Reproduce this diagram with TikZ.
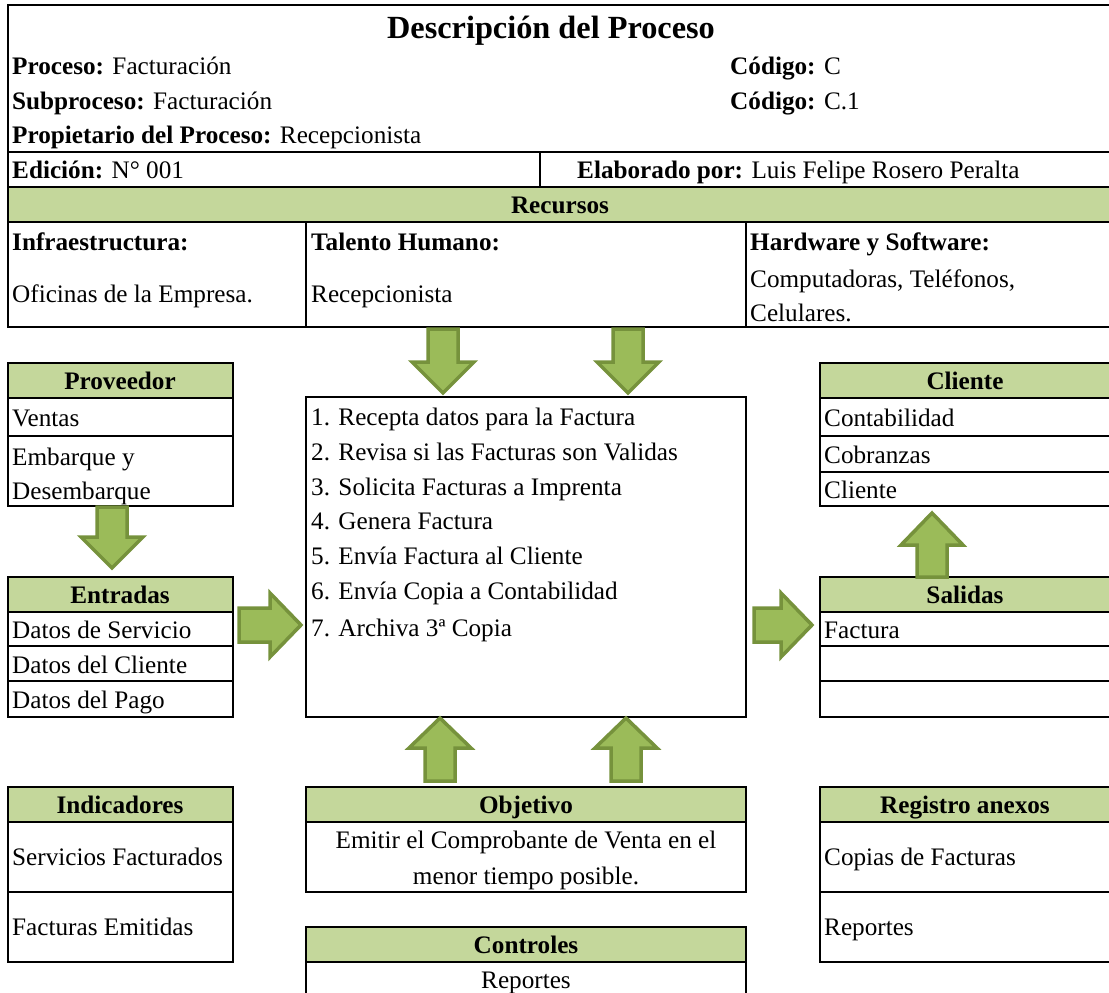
\documentclass[tikz,border=0pt]{standalone}
\usepackage{fontspec}
\setmainfont{Liberation Serif}
\definecolor{hdr}{HTML}{C4D79B}
\definecolor{afill}{HTML}{9BBB59}
\definecolor{adraw}{HTML}{76923C}
\newcommand\ArrDown[4]{\draw[barrow] (#1-15,#2) -- (#1+15,#2) -- (#1+15,#3) -- (#1+31,#3) -- (#1,#4) -- (#1-31,#3) -- (#1-15,#3) -- cycle;}
\newcommand\ArrUp[4]{\draw[barrow] (#1-15,#2) -- (#1+15,#2) -- (#1+15,#3) -- (#1+31,#3) -- (#1,#4) -- (#1-31,#3) -- (#1-15,#3) -- cycle;}
\newcommand\ArrRight[4]{\draw[barrow] (#1,#4-17) -- (#2,#4-17) -- (#2,#4-32) -- (#3,#4) -- (#2,#4+32) -- (#2,#4+17) -- (#1,#4+17) -- cycle;}
\begin{document}
\begin{tikzpicture}[x=1pt,y=-1pt,
  hdrcell/.style={draw=black,line width=2pt,fill=hdr},
  cell/.style={draw=black,line width=2pt},
  tl/.style={anchor=base west,inner sep=0pt,yshift=-8.5pt},
  tc/.style={anchor=base,inner sep=0pt,yshift=-8.5pt},
  barrow/.style={fill=afill,draw=adraw,line width=3.5pt,line join=miter},
  every node/.style={font=\fontsize{25.2}{28}\selectfont}]
\clip (0,0) rectangle (1109,993);
% ---------- top table ----------
\fill[hdr] (8,187) rectangle (1115,222);
\draw[line width=2pt] (1115,5) -- (8,5) -- (8,327) -- (1115,327);
\draw[line width=2pt] (8,152) -- (1115,152) (8,187) -- (1115,187) (8,222) -- (1115,222);
\draw[line width=2pt] (540,152) -- (540,187) (306,222) -- (306,327) (746,222) -- (746,327);
\node[tc,font=\fontsize{32.3}{35}\selectfont\bfseries,yshift=-2pt] (title) at (551,28) {Descripción del Proceso};
\node[tl] (proc) at (12,66) {\textbf{Proceso:} Facturación};
\node[tl] (subp) at (12,101) {\textbf{Subproceso:} Facturación};
\node[tl] (prop) at (12,135) {\textbf{Propietario del Proceso:} Recepcionista};
\node[tl] (cod1) at (730,66) {\textbf{Código:} C};
\node[tl] (cod2) at (730,101) {\textbf{Código:} C.1};
\node[tl] (edic) at (12,170) {\textbf{Edición:} N° 001};
\node[tl] (elab) at (577,170) {\textbf{Elaborado por:} Luis Felipe Rosero Peralta};
\node[tc] (recu) at (560,205) {\textbf{Recursos}};
\node[tl] (infh) at (12,242) {\textbf{Infraestructura:}};
\node[tl] (infc) at (12,294) {Oficinas de la Empresa.};
\node[tl] (talh) at (311,242) {\textbf{Talento Humano:}};
\node[tl] (talc) at (311,294) {Recepcionista};
\node[tl] (hwh) at (750,242) {\textbf{Hardware y Software:}};
\node[tl] (hwc1) at (750,279) {Computadoras, Teléfonos,};
\node[tl] (hwc2) at (750,313) {Celulares.};
% ---------- Proveedor ----------
\draw[hdrcell] (8,363) rectangle (233,398);
\draw[cell] (8,398) rectangle (233,436);
\draw[cell] (8,436) rectangle (233,506);
\node[tc] (provh) at (120,381) {\textbf{Proveedor}};
\node[tl] (prov1) at (12,418) {Ventas};
\node[tl] (prov2) at (12,457) {Embarque y};
\node[tl] (prov3) at (12,491) {Desembarque};
% ---------- Entradas ----------
\draw[hdrcell] (8,577) rectangle (233,612);
\draw[cell] (8,612) rectangle (233,646);
\draw[cell] (8,646) rectangle (233,681);
\draw[cell] (8,681) rectangle (233,717);
\node[tc] (entrh) at (120,595) {\textbf{Entradas}};
\node[tl] (entr1) at (12,630) {Datos de Servicio};
\node[tl] (entr2) at (12,665) {Datos del Cliente};
\node[tl] (entr3) at (12,700) {Datos del Pago};
% ---------- Proceso ----------
\draw[cell] (306,397) rectangle (746,717);
\node[tl] (p1) at (311,417) {1. Recepta datos para la Factura};
\node[tl] (p2) at (311,452) {2. Revisa si las Facturas son Validas};
\node[tl] (p3) at (311,487) {3. Solicita Facturas a Imprenta};
\node[tl] (p4) at (311,521) {4. Genera Factura};
\node[tl] (p5) at (311,556) {5. Envía Factura al Cliente};
\node[tl] (p6) at (311,591) {6. Envía Copia a Contabilidad};
\node[tl] (p7) at (311,628) {7. Archiva 3ª Copia};
% ---------- Cliente ----------
\draw[hdrcell] (820,363) rectangle (1115,398);
\draw[cell] (820,398) rectangle (1115,436);
\draw[cell] (820,436) rectangle (1115,472);
\draw[cell] (820,472) rectangle (1115,506);
\node[tc] (clih) at (965,381) {\textbf{Cliente}};
\node[tl] (cli1) at (824,418) {Contabilidad};
\node[tl] (cli2) at (824,455) {Cobranzas};
\node[tl] (cli3) at (824,490) {Cliente};
% ---------- Salidas ----------
\draw[hdrcell] (820,577) rectangle (1115,612);
\draw[cell] (820,612) rectangle (1115,646);
\draw[cell] (820,646) rectangle (1115,681);
\draw[cell] (820,681) rectangle (1115,717);
\node[tc] (salh) at (965,595) {\textbf{Salidas}};
\node[tl] (sal1) at (824,630) {Factura};
% ---------- Indicadores ----------
\draw[hdrcell] (8,787) rectangle (233,822);
\draw[cell] (8,822) rectangle (233,892);
\draw[cell] (8,892) rectangle (233,962);
\node[tc] (indh) at (120,805) {\textbf{Indicadores}};
\node[tl] (ind1) at (12,857) {Servicios Facturados};
\node[tl] (ind2) at (12,927) {Facturas Emitidas};
% ---------- Objetivo ----------
\draw[hdrcell] (306,787) rectangle (746,822);
\draw[cell] (306,822) rectangle (746,892);
\node[tc] (objh) at (526,805) {\textbf{Objetivo}};
\node[tc] (obj1) at (526,840) {Emitir el Comprobante de Venta en el};
\node[tc] (obj2) at (526,876) {menor tiempo posible.};
% ---------- Controles ----------
\draw[hdrcell] (306,927) rectangle (746,962);
\draw[cell] (306,962) rectangle (746,1005);
\node[tc] (conh) at (526,945) {\textbf{Controles}};
\node[tc] (con1) at (526,980) {Reportes};
% ---------- Registro anexos ----------
\draw[hdrcell] (820,787) rectangle (1115,822);
\draw[cell] (820,822) rectangle (1115,892);
\draw[cell] (820,892) rectangle (1115,962);
\node[tc] (regh) at (965,805) {\textbf{Registro anexos}};
\node[tl] (reg1) at (824,857) {Copias de Facturas};
\node[tl] (reg2) at (824,927) {Reportes};
% ---------- block arrows ----------
\ArrDown{443}{329}{362}{393}
\ArrDown{628}{329}{362}{393}
\ArrDown{112}{507}{537}{568}
\ArrUp{932}{577}{545}{513}
\ArrUp{440}{781}{748}{718}
\ArrUp{626}{781}{748}{718}
\ArrRight{239}{270}{301}{625}
\ArrRight{754}{781}{812}{625}
\end{tikzpicture}
\end{document}
